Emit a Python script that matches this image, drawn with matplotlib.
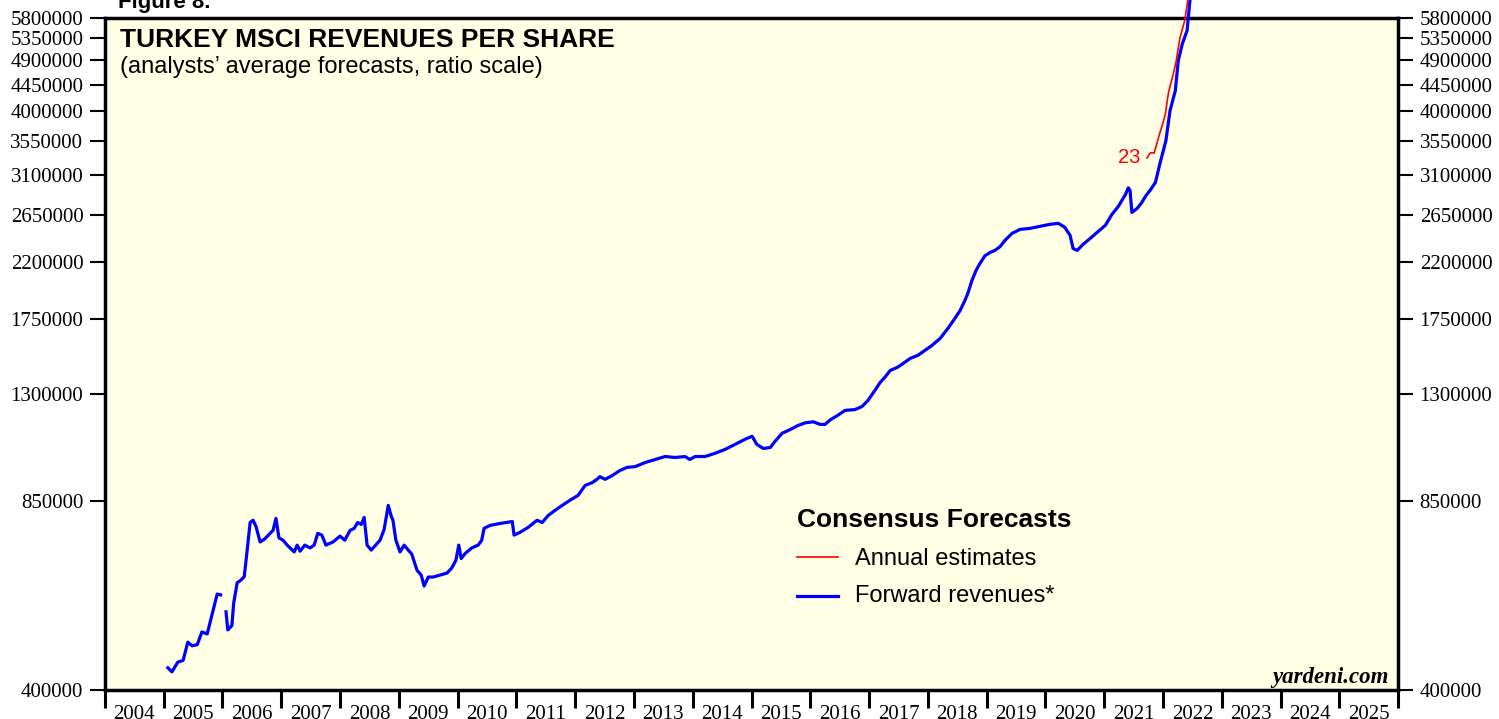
import numpy as np
import matplotlib.pyplot as plt
from matplotlib.lines import Line2D
from matplotlib.ticker import FixedLocator, FixedFormatter, NullLocator

# Forward revenues (blue), first stretch 2005 before data gap
fwd_yr_a = [2005.07, 2005.14, 2005.24, 2005.33, 2005.41, 2005.48, 2005.57, 2005.65,
            2005.74, 2005.82, 2005.91, 2005.97]
fwd_val_a = [437, 430, 447, 450, 484, 477, 479, 504, 500, 539, 586, 584]

fwd_yr_b = [2006.06, 2006.09, 2006.16, 2006.19, 2006.25, 2006.31, 2006.37, 2006.42, 2006.47,
            2006.52, 2006.57, 2006.64, 2006.72, 2006.81, 2006.86, 2006.91, 2006.96,
            2007.03, 2007.10, 2007.15, 2007.22, 2007.27, 2007.32, 2007.40, 2007.49, 2007.56,
            2007.62, 2007.69, 2007.76, 2007.88, 2008.00, 2008.08, 2008.17, 2008.24, 2008.30,
            2008.36, 2008.41, 2008.46, 2008.53, 2008.59, 2008.68, 2008.75, 2008.82, 2008.87,
            2008.90, 2008.95, 2009.02, 2009.09, 2009.16, 2009.22, 2009.31, 2009.38, 2009.43,
            2009.50, 2009.58, 2009.70, 2009.82, 2009.90, 2009.97, 2010.02, 2010.06, 2010.13,
            2010.24, 2010.35, 2010.41, 2010.45, 2010.55, 2010.72, 2010.93, 2010.96, 2011.06,
            2011.20, 2011.35, 2011.44, 2011.54, 2011.66, 2011.78, 2011.91, 2012.05, 2012.17,
            2012.29, 2012.37, 2012.42, 2012.51, 2012.63, 2012.76, 2012.88, 2013.02, 2013.19,
            2013.36, 2013.53, 2013.70, 2013.87, 2013.95, 2014.04, 2014.21, 2014.38, 2014.55,
            2014.72, 2014.89, 2015.01, 2015.09, 2015.20, 2015.32, 2015.40, 2015.52, 2015.66,
            2015.79, 2015.91, 2016.05, 2016.17, 2016.25, 2016.34, 2016.47, 2016.59, 2016.76,
            2016.88, 2016.98, 2017.10, 2017.19, 2017.27, 2017.36, 2017.48, 2017.58, 2017.70,
            2017.83, 2017.95, 2018.07, 2018.21, 2018.34, 2018.46, 2018.55, 2018.63, 2018.68,
            2018.75, 2018.82, 2018.89, 2018.97, 2019.06, 2019.14, 2019.23, 2019.31, 2019.43,
            2019.57, 2019.74, 2019.91, 2020.08, 2020.22, 2020.33, 2020.42, 2020.47, 2020.54,
            2020.64, 2020.76, 2020.88, 2021.02, 2021.13, 2021.24, 2021.30, 2021.36, 2021.41,
            2021.44, 2021.47, 2021.56, 2021.64, 2021.71, 2021.78, 2021.87, 2021.95, 2022.05,
            2022.12, 2022.21, 2022.26, 2022.33, 2022.41, 2022.47]
fwd_val_b = [546, 508, 517, 565, 613, 619, 628, 698, 779,
             786, 767, 721, 730, 746, 755, 792, 733,
             726, 712, 704, 693, 712, 695, 712, 704, 712,
             746, 741, 712, 721, 738, 726, 755, 761, 779,
             773, 795, 712, 698, 709, 726, 758, 834, 799,
             786, 726, 693, 712, 698, 687, 644, 632, 605,
             627, 627, 632, 637, 650, 670, 712, 675, 689,
             704, 712, 726, 761, 770, 776, 782, 741, 749,
             764, 786, 779, 801, 818, 834, 851, 868, 903,
             913, 925, 935, 925, 939, 958, 970, 973, 989,
             1001, 1013, 1009, 1013, 1001, 1013, 1013, 1026, 1042,
             1063, 1085, 1098, 1063, 1046, 1050, 1076, 1111, 1128,
             1146, 1158, 1163, 1151, 1151, 1172, 1194, 1217, 1221,
             1236, 1266, 1318, 1361, 1389, 1427, 1444, 1467, 1497,
             1515, 1545, 1576, 1621, 1686, 1755, 1812, 1885, 1939,
             2041, 2124, 2187, 2251, 2282, 2300, 2336, 2393, 2461,
             2501, 2511, 2532, 2552, 2562, 2521, 2441, 2318, 2300,
             2356, 2412, 2471, 2542, 2654, 2740, 2806, 2872, 2951,
             2920, 2675, 2718, 2784, 2861, 2920, 3013, 3255, 3562,
             4013, 4345, 4896, 5237, 5516, 6400]

# Annual estimates for 2023 (red)
ann_yr = [2021.73, 2021.78, 2021.85, 2021.95, 2022.00, 2022.04, 2022.09, 2022.12,
          2022.17, 2022.22, 2022.29, 2022.37, 2022.44]
ann_val = [3323, 3390, 3390, 3680, 3823, 3955, 4290, 4420, 4620, 4857, 5370, 5740, 6400]

y_ticks = [400000, 850000, 1300000, 1750000, 2200000, 2650000, 3100000, 3550000,
           4000000, 4450000, 4900000, 5350000, 5800000]
years = list(range(2004, 2026))

fig = plt.figure(figsize=(14.99, 7.19), dpi=100)
ax = fig.add_axes([0.070, 0.0403, 0.8627, 0.9347])
ax.set_facecolor('#ffffe6')

ax.plot(fwd_yr_a, np.array(fwd_val_a) * 1000, color='#0000ff', lw=2.3, clip_on=False, zorder=3)
ax.plot(fwd_yr_b, np.array(fwd_val_b) * 1000, color='#0000ff', lw=2.3, clip_on=False, zorder=3)
ax.plot(ann_yr, np.array(ann_val) * 1000, color='#ff0000', lw=1.2, clip_on=False, zorder=4)
ax.text(2021.62, ann_val[0] * 1000, '23', color='#ff0000', fontsize=14.5,
        family='Liberation Sans', ha='right', va='center')

ax.set_yscale('log')
ax.set_ylim(400000, 5800000)
ax.set_xlim(2004, 2026)
ax.yaxis.set_major_locator(FixedLocator(y_ticks))
ax.yaxis.set_major_formatter(FixedFormatter([str(v) for v in y_ticks]))
ax.yaxis.set_minor_locator(NullLocator())

ax.set_xticks(range(2004, 2027))
ax.set_xticklabels([])
ax.set_xticks([y + 0.5 for y in years], minor=True)
ax.set_xticklabels([str(y) for y in years], minor=True)

for sp in ax.spines.values():
    sp.set_linewidth(2.5)
ax.tick_params(axis='y', which='major', direction='out', length=10.5, width=1.5,
               left=True, right=True, labelleft=True, labelright=True, labelsize=15, pad=5)
ax.tick_params(axis='x', which='major', direction='out', length=13, width=2.2)
ax.tick_params(axis='x', which='minor', length=0, labelsize=15, pad=11)
for lab in ax.get_yticklabels() + ax.get_xticklabels(minor=True):
    lab.set_family('Liberation Serif')

sans = 'Liberation Sans'
fig.text(0.079, 0.989, 'Figure 8.', fontsize=16, weight='bold', family=sans, va='baseline')
fig.text(0.080, 0.9346, 'TURKEY MSCI REVENUES PER SHARE', fontsize=19, weight='bold',
         family=sans, va='baseline')
fig.text(0.080, 0.8985, '(analysts\u2019 average forecasts, ratio scale)', fontsize=17,
         family=sans, va='baseline')

fig.text(0.5317, 0.267, 'Consensus Forecasts', fontsize=19, weight='bold', family=sans, va='baseline')
fig.text(0.5704, 0.2142, 'Annual estimates', fontsize=17, family=sans, va='baseline')
fig.text(0.5704, 0.1627, 'Forward revenues*', fontsize=17, family=sans, va='baseline')
fig.add_artist(Line2D([0.5317, 0.5590], [0.2253, 0.2253], color='#ff0000', lw=1.2))
fig.add_artist(Line2D([0.5317, 0.5590], [0.1711, 0.1711], color='#0000ff', lw=2.3))

fig.text(0.9266, 0.050, 'yardeni.com', fontsize=16.5, weight='bold', style='italic',
         family='Liberation Serif', ha='right', va='baseline')

fig.savefig('out.png', dpi=100)
